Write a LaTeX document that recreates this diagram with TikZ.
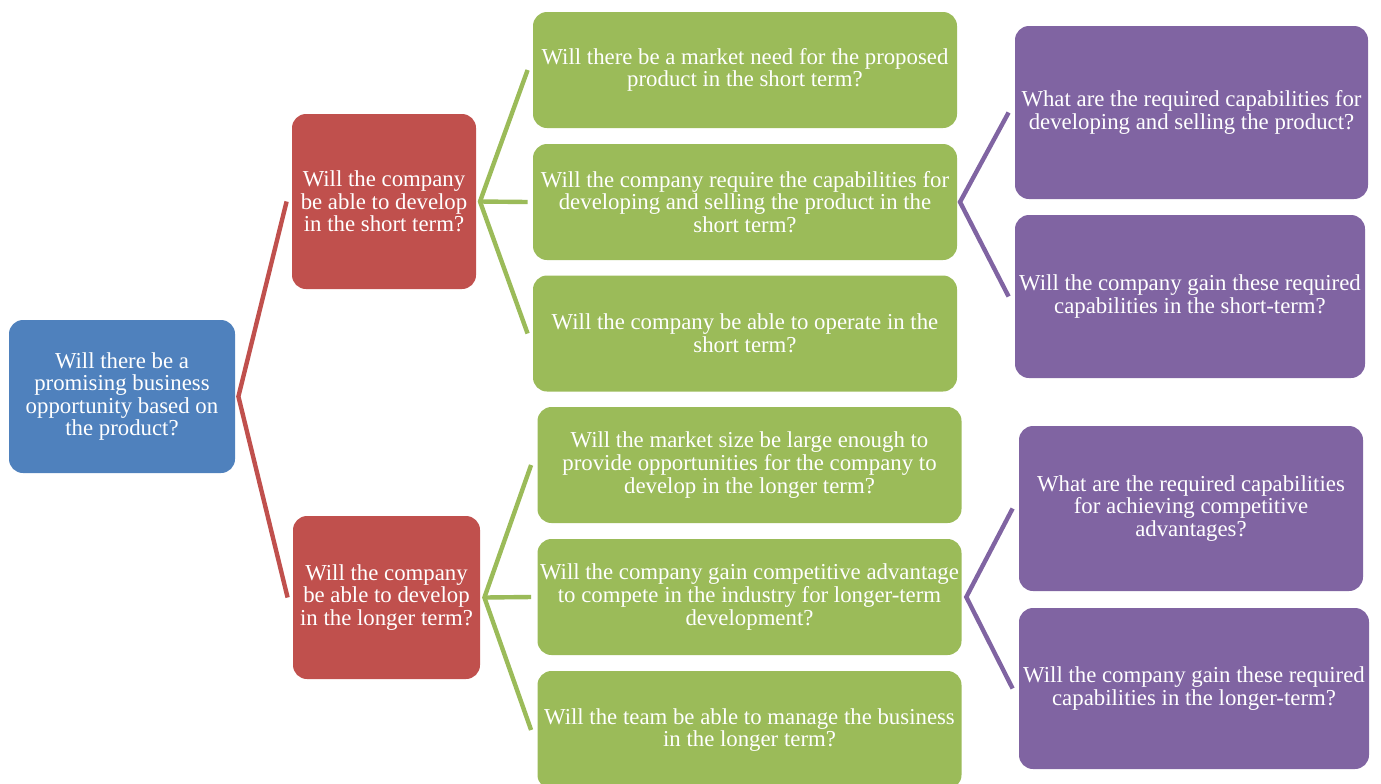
\documentclass[tikz,border=0pt]{standalone}
\usepackage{fontspec}
\setmainfont{Liberation Serif}
\usetikzlibrary{positioning}
\definecolor{qblue}{HTML}{4F81BD}
\definecolor{qred}{HTML}{C0504D}
\definecolor{qgreen}{HTML}{9BBB59}
\definecolor{qpurple}{HTML}{8064A2}

\begin{document}
\begin{tikzpicture}[
			x=0.5pt, y=-0.5pt,
			box/.style = {rectangle, rounded corners=7pt, text=white, align=center, inner sep=1pt, font=\fontsize{11.4}{11.3}\selectfont},
			rootbox/.style = {box, fill=qblue, minimum width=113pt, minimum height=76.5pt},
			redbox/.style = {box, fill=qred, minimum width=92pt, minimum height=84pt},
			greenbox/.style = {box, fill=qgreen, minimum width=212pt, minimum height=58pt},
			purplebox/.style = {box, fill=qpurple, minimum width=175pt, minimum height=83pt},
			link/.style = {line width=2.2pt, line join=miter},
		]
			\useasboundingbox (0,0) rectangle (1381,783);
			% root
			\node[rootbox] (opp) at (122,396.5) {Will there be a\\ promising business\\ opportunity based on\\ the product?};
			% second level
			\node[redbox, minimum height=87.5pt] (st) at (384,201.5) {Will the company\\ be able to develop\\ in the short term?};
			\node[redbox, minimum width=93.5pt, minimum height=81.5pt] (lt) at (386.5,597.5) {Will the company\\ be able to develop\\ in the longer term?};
			% third level, short term
			\node[greenbox] (need) at (745,70) {Will there be a market need for the proposed\\ product in the short term?};
			\node[greenbox] (cap) at (745,202) {Will the company require the capabilities for\\ developing and selling the product in the\\ short term?};
			\node[greenbox] (oper) at (745,333.5) {Will the company be able to operate in the\\ short term?};
			% third level, longer term
			\node[greenbox] (size) at (749.5,465) {Will the market size be large enough to\\ provide opportunities for the company to\\ develop in the longer term?};
			\node[greenbox] (adv) at (749.5,597) {Will the company gain competitive advantage\\ to compete in the industry for longer-term\\ development?};
			\node[greenbox, minimum height=59pt] (team) at (749.5,730) {Will the team be able to manage the business\\ in the longer term?};
			% fourth level
			\node[purplebox, minimum width=176.5pt, minimum height=86.5pt] (reqst) at (1191.5,112.5) {What are the required capabilities for\\ developing and selling the product?};
			\node[purplebox, minimum height=81.5pt] (gainst) at (1190,296.5) {Will the company gain these required\\ capabilities in the short-term?};
			\node[purplebox, minimum width=172pt, minimum height=82.5pt] (reqlt) at (1191,508.5) {What are the required capabilities\\ for achieving competitive\\ advantages?};
			\node[purplebox, minimum height=80.5pt] (gainlt) at (1194,688.5) {Will the company gain these required\\ capabilities in the longer-term?};

			% connectors
			\draw[link, qred] ([xshift=-2.5pt]st.west) -- ([xshift=1.5pt]opp.east) -- ([xshift=-2.5pt]lt.west);
			\draw[link, qgreen] ([xshift=-2.5pt]need.west) -- ([xshift=1.8pt]st.east) -- ([xshift=-2.5pt]oper.west);
			\draw[link, qgreen] ([xshift=1.8pt]st.east) -- ([xshift=-2.5pt]cap.west);
			\draw[link, qgreen] ([xshift=-3pt]size.west) -- ([xshift=2pt]lt.east) -- ([xshift=-3pt]team.west);
			\draw[link, qgreen] ([xshift=2pt]lt.east) -- ([xshift=-3pt]adv.west);
			\draw[link, qpurple] ([xshift=-3pt]reqst.west) -- ([xshift=1.3pt]cap.east) -- ([xshift=-3pt]gainst.west);
			\draw[link, qpurple] ([xshift=-3pt]reqlt.west) -- ([xshift=2.2pt]adv.east) -- ([xshift=-3pt]gainlt.west);
		\end{tikzpicture}
\end{document}
